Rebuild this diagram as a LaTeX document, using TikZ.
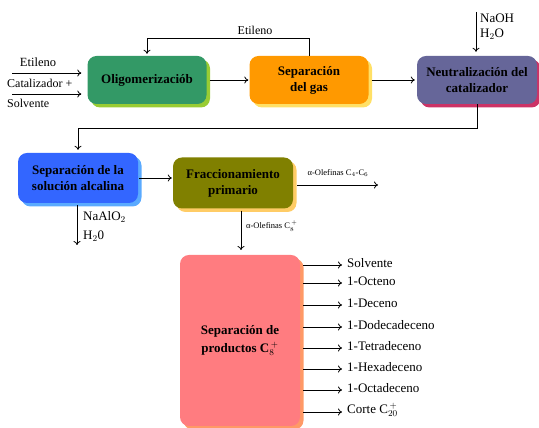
\documentclass[tikz,border=0pt]{standalone}
\usepackage{fontspec}
\setmainfont{Liberation Serif}
\usetikzlibrary{shadows,arrows.meta}

\definecolor{oligogreen}{HTML}{339966}
\definecolor{limeshade}{HTML}{99CC33}
\definecolor{gasorange}{HTML}{FF9900}
\definecolor{yellowshade}{HTML}{FFE066}
\definecolor{neutpurple}{HTML}{666699}
\definecolor{crimsonshade}{HTML}{CC3366}
\definecolor{alcblue}{HTML}{3366FF}
\definecolor{skyshade}{HTML}{5AAAFF}
\definecolor{fracolive}{HTML}{808000}
\definecolor{paleshade}{HTML}{FFCC66}
\definecolor{prodsalmon}{HTML}{FF7C80}
\definecolor{peachshade}{HTML}{FF9966}

\tikzset{
  procbox/.style={rounded corners=9pt, minimum width=120pt, minimum height=48pt,
    align=center, font=\fontsize{13}{16}\selectfont\bfseries, inner sep=2pt},
  shade/.style={general shadow={fill=#1, shadow xshift=3.5pt, shadow yshift=-3.5pt}},
  flow/.style={-{To[length=4pt,width=7pt]}, line width=0.8pt},
  lbl/.style={font=\fontsize{13}{15}\selectfont, inner sep=1pt},
  tiny lbl/.style={font=\fontsize{8.5}{10}\selectfont, inner sep=1pt}
}

\begin{document}
\begin{tikzpicture}[x=1pt, y=1pt]
    \useasboundingbox (0,0) rectangle (539,428);

    % Process units
    \node[procbox, shade=limeshade, fill=oligogreen, minimum width=119pt] (oligo) at (147,348) {Oligomerizaciób};
    \node[procbox, shade=yellowshade, fill=gasorange, minimum width=119pt] (sepgas) at (309,348) {Separación\\del gas};
    \node[procbox, shade=crimsonshade, fill=neutpurple] (neutral) at (477,348) {Neutralización del\\catalizador};
    \node[procbox, shade=skyshade, fill=alcblue, minimum height=50pt] (alcalina) at (78,250) {Separación de la\\solución alcalina};
    \node[procbox, shade=paleshade, fill=fracolive, minimum height=51pt] (frac) at (233,245) {Fraccionamiento\\primario};
    \node[procbox, shade=peachshade, fill=prodsalmon, minimum height=171pt] (prod) at (240,87.5) {Separación de\\[2pt]productos C$_8^{\,+}$};

    % Feeds
    \coordinate (feedA) at (12,355);
    \coordinate (feedB) at (12,334);
    \draw[flow, shorten >=6pt] (feedA) -- (feedA -| oligo.west);
    \draw[flow, shorten >=6pt] (feedB) -- (feedB -| oligo.west);
    \node[lbl, font=\fontsize{12.5}{14}\selectfont] (etilA) at (38,366) {Etileno};
    \node[lbl, anchor=west, font=\fontsize{12}{14}\selectfont] (catal) at (6,345) {Catalizador +};
    \node[lbl, anchor=west, font=\fontsize{12}{14}\selectfont] (solv) at (6,325) {Solvente};

    % Main line
    \draw[flow, shorten <=3pt, shorten >=1pt] (oligo.east) -- (sepgas.west);
    \draw[flow, shorten <=3pt, shorten >=2pt] (sepgas.east) -- (neutral.west);

    % Ethylene recycle
    \draw[flow, shorten >=2pt] (sepgas.north) -- ++(0,17) -| (oligo.north);
    \node[lbl, font=\fontsize{12}{14}\selectfont] (etilB) at (255,398) {Etileno};

    % Caustic wash
    \coordinate (naohin) at (476,416);
    \draw[flow, shorten >=4pt] (naohin) -- (naohin |- neutral.north);
    \node[lbl, anchor=west] (naoh) at (479,410) {NaOH};
    \node[lbl, anchor=west] (water) at (479,394) {H$_2$O};

    \draw[flow, shorten >=3pt] (neutral.south) -- ++(0,-24) -| (alcalina.north);
    \draw[flow, shorten <=1pt, shorten >=1pt] (alcalina.east) -- (alcalina.east -| frac.west);

    \coordinate (alout) at (77,183);
    \draw[flow, shorten <=2pt] (alout |- alcalina.south) -- (alout);
    \node[lbl, anchor=west] (naalo) at (82,211) {NaAlO$_2$};
    \node[lbl, anchor=west] (water2) at (82,192) {H$_2$0};

    % Primary fractionation
    \coordinate (lightout) at (378,243);
    \draw[flow, shorten <=4pt] (lightout -| frac.east) -- (lightout);
    \node[tiny lbl] (light) at (338,255) {α-Olefinas C$_4$-C$_6$};
    \coordinate (heavyin) at (241,178);
    \draw[flow, shorten <=2pt] (heavyin |- frac.south) -- (heavyin);
    \node[tiny lbl, anchor=west] (heavy) at (245,202) {α-Olefinas C$_8^{\,+}$};

    % Products
    \foreach \name/\yy [count=\i] in {Solvente/163, 1-Octeno/145, 1-Deceno/123, 1-Dodecadeceno/101,
        1-Tetradeceno/80, 1-Hexadeceno/59, 1-Octadeceno/38, {Corte C$_{20}^{\,+}$}/16}{
      \coordinate (cut\i) at (342,\yy);
      \draw[flow, shorten <=3pt] (cut\i -| prod.east) -- (cut\i);
      \node[lbl, anchor=west] (name\i) at ([xshift=4pt, yshift=2pt]cut\i) {\name};
    }

\end{tikzpicture}
\end{document}
